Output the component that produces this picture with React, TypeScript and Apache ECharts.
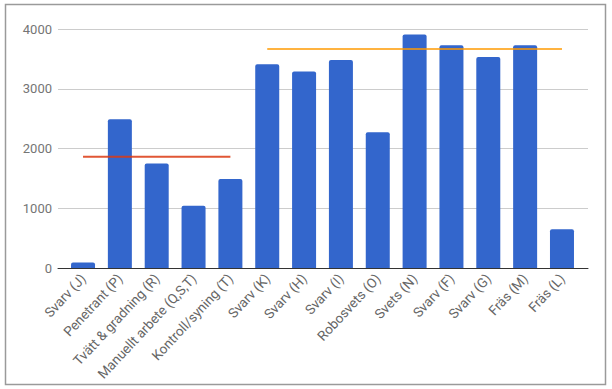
import React, { useEffect, useRef } from "react";
import * as echarts from "echarts";

const categories = [
  "Svarv (J)",
  "Penetrant (P)",
  "Tvätt & gradning (R)",
  "Manuellt arbete (Q,S,T)",
  "Kontroll/syning (T)",
  "Svarv (K)",
  "Svarv (H)",
  "Svarv (I)",
  "Robosvets (O)",
  "Svets (N)",
  "Svarv (F)",
  "Svarv (G)",
  "Fräs (M)",
  "Fräs (L)",
];
const values = [90, 2490, 1750, 1040, 1490, 3410, 3290, 3480, 2270, 3910, 3730, 3530, 3730, 650];
const groupAAvg = [1860, 1860, 1860, 1860, 1860, null, null, null, null, null, null, null, null, null];
const groupBAvg = [null, null, null, null, null, 3665, 3665, 3665, 3665, 3665, 3665, 3665, 3665, 3665];
const yTicks = { min: 0, max: 4000, interval: 1000 };

export default function App() {
  const ref = useRef<HTMLDivElement>(null);
  useEffect(() => {
    if (!ref.current) return;
    const chart = echarts.init(ref.current, undefined, { renderer: "svg" });
    chart.setOption({
      animation: false,
      backgroundColor: "#ffffff",
      textStyle: { fontFamily: "Roboto" },
      graphic: [
        {
          type: "rect",
          shape: { x: 5.5, y: 4.5, width: 600, height: 380 },
          style: { fill: "none", stroke: "#9a9a9a", lineWidth: 1.5 },
          silent: true,
        },
      ],
      grid: [
        { left: 58, right: 24, top: 29, bottom: 121 },
        { left: 64.6, right: 31.6, top: 29, bottom: 121 },
      ],
      xAxis: [
        {
          gridIndex: 0,
          type: "value",
          min: 0,
          max: 1,
          axisLine: { show: true, lineStyle: { color: "#333333", width: 1 } },
          axisTick: { show: false },
          axisLabel: { show: false },
          splitLine: { show: false },
        },
        {
          gridIndex: 1,
          type: "category",
          data: categories,
          axisLine: { show: false },
          axisTick: { show: false },
          axisLabel: {
            rotate: 47,
            interval: 0,
            color: "#666666",
            fontSize: 13.5,
            fontFamily: "Roboto",
            margin: 8,
          },
        },
      ],
      yAxis: [
        {
          gridIndex: 0,
          type: "value",
          min: yTicks.min,
          max: yTicks.max,
          interval: yTicks.interval,
          axisLine: { show: false },
          axisTick: { show: false },
          axisLabel: {
            color: "#757575",
            fontSize: 13,
            fontFamily: "Roboto",
            margin: 6,
            formatter: (v: number) => String(v),
          },
          splitLine: { show: true, lineStyle: { color: "#cccccc", width: 1 } },
        },
        {
          gridIndex: 1,
          type: "value",
          min: yTicks.min,
          max: yTicks.max,
          interval: yTicks.interval,
          show: false,
          splitLine: { show: false },
        },
      ],
      series: [
        {
          type: "bar",
          xAxisIndex: 1,
          yAxisIndex: 1,
          data: values,
          barWidth: 24,
          itemStyle: { color: "#3366cc", borderRadius: [2, 2, 0, 0] },
        },
        {
          type: "line",
          xAxisIndex: 1,
          yAxisIndex: 1,
          data: groupAAvg,
          symbol: "none",
          lineStyle: { color: "#dc3912", width: 2, opacity: 0.85 },
          connectNulls: false,
        },
        {
          type: "line",
          xAxisIndex: 1,
          yAxisIndex: 1,
          data: groupBAvg,
          symbol: "none",
          lineStyle: { color: "#ff9900", width: 2, opacity: 0.75 },
          connectNulls: false,
        },
      ],
    });
    return () => chart.dispose();
  }, []);
  return (
    <div
      ref={ref}
      style={{ position: "fixed", left: 0, top: 0, width: 612, height: 389 }}
    />
  );
}
